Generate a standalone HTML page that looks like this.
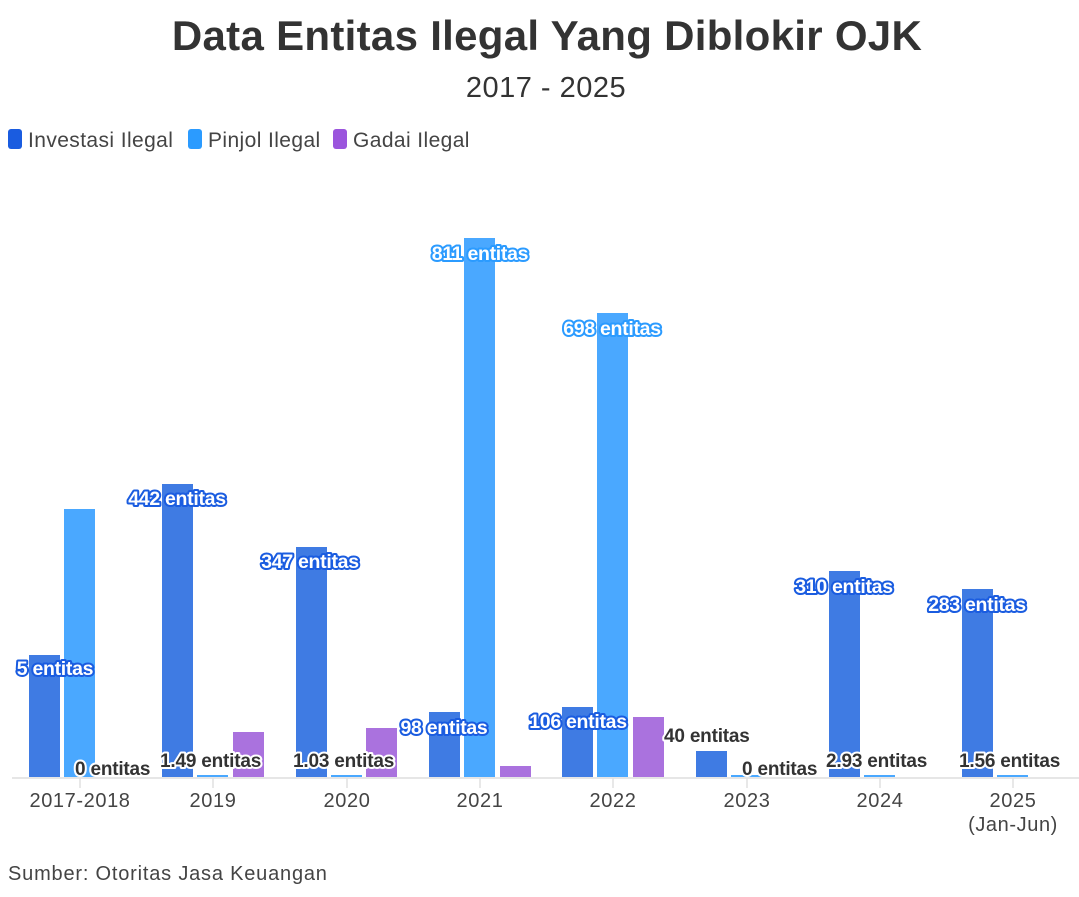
<!DOCTYPE html>
<html><head><meta charset="utf-8"><style>
html,body{margin:0;padding:0;background:#fff;}
svg{display:block;font-family:"Liberation Sans",sans-serif;}
.lb{font-weight:bold;font-size:19.5px;fill:#fff;stroke-width:4px;paint-order:stroke;stroke-linejoin:round;text-anchor:middle;letter-spacing:-0.3px;}
.d{font-weight:bold;font-size:19px;fill:#333;stroke:#fff;stroke-width:4px;paint-order:stroke;stroke-linejoin:round;letter-spacing:-0.2px;}
.ax{font-size:20px;fill:#444;text-anchor:middle;letter-spacing:0.6px;}
</style></head><body>
<svg width="1079" height="897" viewBox="0 0 1079 897">
<text x="547" y="50" text-anchor="middle" font-size="42" font-weight="bold" fill="#333" letter-spacing="0.3">Data Entitas Ilegal Yang Diblokir OJK</text>
<text x="546" y="97" text-anchor="middle" font-size="29" fill="#333" letter-spacing="0.5">2017 - 2025</text>
<rect x="8" y="129" width="14" height="20" rx="3" fill="#1a5ce0"/>
<text x="28" y="147" font-size="21" fill="#444" letter-spacing="0.4">Investasi Ilegal</text>
<rect x="188" y="129" width="14" height="20" rx="3" fill="#2b9bff"/>
<text x="208" y="147" font-size="21" fill="#444" letter-spacing="0.4">Pinjol Ilegal</text>
<rect x="333" y="129" width="14" height="20" rx="3" fill="#9b55dd"/>
<text x="353" y="147" font-size="21" fill="#444" letter-spacing="0.4">Gadai Ilegal</text>

<line x1="12" y1="778" x2="1079" y2="778" stroke="#e6e6e6" stroke-width="2"/>
<g stroke="#e0e0e0" stroke-width="1.5">
<line x1="80" y1="778" x2="80" y2="788"/><line x1="213" y1="778" x2="213" y2="788"/><line x1="347" y1="778" x2="347" y2="788"/><line x1="480" y1="778" x2="480" y2="788"/><line x1="613" y1="778" x2="613" y2="788"/><line x1="747" y1="778" x2="747" y2="788"/><line x1="880" y1="778" x2="880" y2="788"/><line x1="1013" y1="778" x2="1013" y2="788"/>
</g>
<g fill="#3f7be3">
<rect x="29" y="655" width="31" height="122"/>
<rect x="162" y="484" width="31" height="293"/>
<rect x="296" y="547" width="31" height="230"/>
<rect x="429" y="712" width="31" height="65"/>
<rect x="562" y="707" width="31" height="70"/>
<rect x="696" y="751" width="31" height="26"/>
<rect x="829" y="571" width="31" height="206"/>
<rect x="962" y="589" width="31" height="188"/>
</g>
<g fill="#4aa8ff">
<rect x="64" y="509" width="31" height="268"/>
<rect x="197" y="775" width="31" height="2"/>
<rect x="331" y="775" width="31" height="2"/>
<rect x="464" y="238" width="31" height="539"/>
<rect x="597" y="313" width="31" height="464"/>
<rect x="731" y="775" width="31" height="2"/>
<rect x="864" y="775" width="31" height="2"/>
<rect x="997" y="775" width="31" height="2"/>
</g>
<g fill="#aa72de">
<rect x="233" y="732" width="31" height="45"/>
<rect x="366" y="728" width="31" height="49"/>
<rect x="500" y="766" width="31" height="11"/>
<rect x="633" y="717" width="31" height="60"/>
</g>
<g class="lb" stroke="#1a5ce0">
<text x="55" y="675">5 entitas</text>
<text x="177" y="505">442 entitas</text>
<text x="310" y="568">347 entitas</text>
<text x="444" y="734">98 entitas</text>
<text x="578" y="728">106 entitas</text>
<text x="844" y="593">310 entitas</text>
<text x="977" y="611">283 entitas</text>
</g>
<g class="lb" stroke="#2b9bff">
<text x="480" y="260">811 entitas</text>
<text x="612" y="335">698 entitas</text>
</g>
<text class="d" x="75" y="775">0 entitas</text>
<text class="d" x="160" y="767">1.49 entitas</text>
<text class="d" x="293" y="767">1.03 entitas</text>
<text class="d" x="664" y="742">40 entitas</text>
<text class="d" x="742" y="775">0 entitas</text>
<text class="d" x="826" y="767">2.93 entitas</text>
<text class="d" x="959" y="767">1.56 entitas</text>

<text class="ax" x="80" y="807">2017-2018</text>
<text class="ax" x="213" y="807">2019</text>
<text class="ax" x="347" y="807">2020</text>
<text class="ax" x="480" y="807">2021</text>
<text class="ax" x="613" y="807">2022</text>
<text class="ax" x="747" y="807">2023</text>
<text class="ax" x="880" y="807">2024</text>
<text class="ax" x="1013" y="807">2025</text>
<text class="ax" x="1013" y="831">(Jan-Jun)</text>
<text x="8" y="880" font-size="20" fill="#444" letter-spacing="0.8">Sumber: Otoritas Jasa Keuangan</text>
</svg>
</body></html>
